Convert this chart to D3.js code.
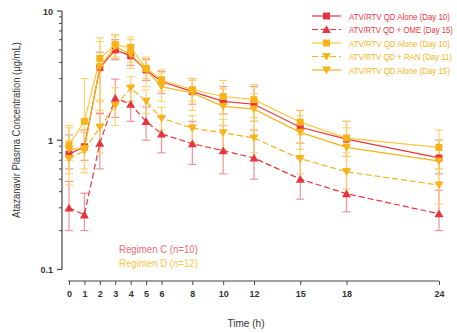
<!DOCTYPE html>
<html>
<head>
<meta charset="utf-8">
<script src="https://cdn.jsdelivr.net/npm/d3@7"></script>
<style>
  body { margin: 0; background: #fff; }
  svg { display: block; }
  .narrow { font-family: "Liberation Sans Narrow", "Arial Narrow", "Liberation Sans", sans-serif; }
  .tick-label { font-family: "Liberation Sans", Arial, sans-serif; font-weight: bold; font-size: 9px; fill: #333; }
</style>
</head>
<body>
<div id="chart"></div>
<script>
// Temps de prélèvement (h)
const times = [0, 1, 2, 3, 4, 5, 6, 8, 10, 12, 15, 18, 24];
const xTicks = [0, 1, 2, 3, 4, 5, 6, 8, 10, 12, 15, 18, 24];
const yTicks = [0.1, 1, 10];

// Séries (moyennes)
const alone10C = [0.78, 0.89, 3.64, 5.0, 4.5, 3.5, 2.85, 2.38, 2.0, 1.9, 1.26, 1.02, 0.73];
const ome15C   = [0.30, 0.265, 0.95, 2.12, 1.9, 1.40, 1.12, 0.94, 0.83, 0.73, 0.50, 0.386, 0.27];
const alone10D = [0.92, 1.40, 4.3, 5.5, 5.2, 3.6, 2.94, 2.46, 2.18, 2.06, 1.38, 1.04, 0.88];
const ran11D   = [0.72, 0.83, 1.26, 1.85, 2.53, 2.0, 1.48, 1.24, 1.14, 1.04, 0.72, 0.57, 0.45];
const alone15D = [0.85, 0.86, 3.7, 5.3, 4.6, 3.5, 2.6, 2.32, 1.83, 1.74, 1.15, 0.88, 0.69];

// Barres d'erreur (bornes haute / basse)
const alone10CHi = [1.1, 1.2, 4.8, 6.0, 5.5, 4.2, 3.4, 3.0, 2.6, 2.6, 1.7, 1.4, 1.0];
const alone10CLo = [0.6, 0.7, 1.6, 4.2, 3.8, 2.9, 2.3, 1.9, 1.6, 1.4, 0.95, 0.75, 0.55];
const ome15CHi   = [0.48, 0.39, 1.62, 2.97, 2.6, 1.81, 1.5, 1.4, 1.3, 1.2, 0.72, 0.6, 0.41];
const ome15CLo   = [0.2, 0.2, 0.6, 1.5, 1.4, 1.0, 0.8, 0.65, 0.55, 0.5, 0.35, 0.28, 0.2];
const alone10DHi = [1.3, 3.0, 6.2, 6.6, 6.3, 4.4, 3.5, 3.0, 2.9, 2.7, 1.7, 1.4, 1.2];
const alone10DLo = [0.7, 0.9, 2.05, 4.4, 4.0, 3.0, 2.4, 2.0, 1.6, 1.5, 1.1, 0.75, 0.6];
const ran11DHi   = [1.0, 1.15, 2.0, 2.55, 3.1, 2.45, 1.8, 1.55, 1.45, 1.4, 0.95, 0.8, 0.6];
const ran11DLo   = [0.45, 0.56, 0.8, 1.3, 2.0, 1.6, 1.2, 0.95, 0.85, 0.8, 0.55, 0.42, 0.32];
const alone15DHi = [1.25, 1.2, 5.8, 6.4, 6.0, 4.3, 3.3, 2.9, 2.5, 2.3, 1.55, 1.25, 1.0];
const alone15DLo = [0.55, 0.6, 1.7, 4.3, 3.6, 2.6, 2.0, 1.7, 1.3, 1.2, 0.85, 0.6, 0.45];

const seriesNames = [
  'ATV/RTV QD Alone (Day 10)',
  'ATV/RTV QD + OME (Day 15)',
  'ATV/RTV QD Alone (Day 10)',
  'ATV/RTV QD + RAN (Day 11)',
  'ATV/RTV QD Alone (Day 15)'
];

const RED = '#e8343e';
const RED_ERR = '#f08890';
const ORANGE = '#f7b318';
const ORANGE_LIGHT = '#fbc83a';
const ORANGE_ERR = '#fbd067';

const series = [
  { name: seriesNames[0], values: alone10C, hi: alone10CHi, lo: alone10CLo, color: RED, err: RED_ERR, symbol: 'square', dash: null },
  { name: seriesNames[1], values: ome15C, hi: ome15CHi, lo: ome15CLo, color: RED, err: RED_ERR, symbol: 'up', dash: '6,3' },
  { name: seriesNames[2], values: alone10D, hi: alone10DHi, lo: alone10DLo, color: ORANGE_LIGHT, err: ORANGE_ERR, symbol: 'square', dash: null, fill: ORANGE },
  { name: seriesNames[3], values: ran11D, hi: ran11DHi, lo: ran11DLo, color: ORANGE, err: ORANGE_ERR, symbol: 'down', dash: '6,3' },
  { name: seriesNames[4], values: alone15D, hi: alone15DHi, lo: alone15DLo, color: ORANGE, err: ORANGE_ERR, symbol: 'down', dash: null }
];

const WIDTH = 457;
const HEIGHT = 333;

/**
 * Condense un texte (police étroite absente) par une mise à l'échelle horizontale
 * autour de son point d'ancrage (x, y), avec rotation éventuelle.
 */
function condense(sel, x0, y0, width, rotate) {
  const len = sel.node().getComputedTextLength();
  const k = Math.min(1, width / len);
  sel.attr('x', 0).attr('y', 0)
    .attr('transform', `translate(${x0},${y0})${rotate ? ` rotate(${rotate})` : ''} scale(${k},1)`);
}

const svg = d3.select('#chart').append('svg')
  .attr('width', WIDTH)
  .attr('height', HEIGHT);

const x = d3.scaleLinear().domain([0, 24]).range([69, 439]);
const y = d3.scaleLog().domain([0.1, 10]).range([269.5, 11]);

// Axe Y (log)
const yAxisG = svg.append('g').attr('transform', 'translate(62,0)');
yAxisG.append('line')
  .attr('x1', 0).attr('x2', 0)
  .attr('y1', y(10)).attr('y2', y(0.1))
  .attr('stroke', '#444').attr('stroke-width', 1.2);

const minorTicks = [];
[0.1, 1].forEach(base => {
  for (let k = 2; k <= 9; k++) minorTicks.push(base * k);
});
yAxisG.selectAll('.minor').data(minorTicks).enter().append('line')
  .attr('x1', -3).attr('x2', 0)
  .attr('y1', d => y(d)).attr('y2', d => y(d))
  .attr('stroke', '#444').attr('stroke-width', 1);
yAxisG.selectAll('.major').data(yTicks).enter().append('line')
  .attr('x1', -5).attr('x2', 0)
  .attr('y1', d => y(d)).attr('y2', d => y(d))
  .attr('stroke', '#444').attr('stroke-width', 1.2);
yAxisG.selectAll('.ylab').data(yTicks).enter().append('text')
  .attr('class', 'tick-label')
  .attr('x', -9).attr('y', d => y(d) + 3.5)
  .attr('text-anchor', 'end')
  .text(d => d);

// Axe X (séparé)
const xAxis = d3.axisBottom(x)
  .tickValues(xTicks)
  .tickSize(4)
  .tickPadding(6)
  .tickFormat(d => d);

const xAxisG = svg.append('g')
  .attr('transform', 'translate(0,281)')
  .call(xAxis);
xAxisG.select('.domain').attr('d', `M${x(0) - 1},0H${x(24)}`).attr('stroke', '#444').attr('stroke-width', 1.2);
xAxisG.selectAll('.tick line').attr('stroke', '#444');
xAxisG.selectAll('.tick text').attr('class', 'tick-label').attr('font-size', null).attr('font-family', null);

// Titres des axes
svg.append('text')
  .attr('class', 'narrow')
  .attr('text-anchor', 'middle')
  .attr('font-size', 10.5)
  .attr('fill', '#333')
  .text('Time (h)')
  .call(condense, 246, 327, 37);

svg.append('text')
  .attr('class', 'narrow')
  .attr('text-anchor', 'middle')
  .attr('font-size', 10.5)
  .attr('fill', '#333')
  .text('Atazanavir Plasma Concentration (µg/mL)')
  .call(condense, 20, 130, 176, -90);

// Barres d'erreur
const CAP = 4;
series.forEach(s => {
  const g = svg.append('g').attr('stroke', s.err).attr('stroke-width', 1.2).attr('opacity', 0.9);
  times.forEach((t, i) => {
    const cx = x(t);
    g.append('line').attr('x1', cx).attr('x2', cx).attr('y1', y(s.hi[i])).attr('y2', y(s.lo[i]));
    g.append('line').attr('x1', cx - CAP).attr('x2', cx + CAP).attr('y1', y(s.hi[i])).attr('y2', y(s.hi[i]));
    g.append('line').attr('x1', cx - CAP).attr('x2', cx + CAP).attr('y1', y(s.lo[i])).attr('y2', y(s.lo[i]));
  });
});

// Symboles
function symbolPath(kind) {
  if (kind === 'square') return 'M-3.5,-3.5H3.5V3.5H-3.5Z';
  if (kind === 'up') return 'M0,-4.2L4.5,3.6H-4.5Z';
  return 'M0,4.2L4.5,-3.6H-4.5Z';
}

const line = d3.line()
  .x((d, i) => x(times[i]))
  .y(d => y(d));

// Courbes et points
series.forEach(s => {
  svg.append('path')
    .datum(s.values)
    .attr('d', line)
    .attr('fill', 'none')
    .attr('stroke', s.color)
    .attr('stroke-width', 1.2)
    .attr('stroke-dasharray', s.dash);
  svg.append('g').selectAll('path')
    .data(s.values)
    .enter().append('path')
    .attr('transform', (d, i) => `translate(${x(times[i])},${y(d)})`)
    .attr('d', symbolPath(s.symbol))
    .attr('fill', s.fill || s.color);
});

// Légende
const legendRows = [16, 29.5, 43, 56.5, 70];
const legendWidths = [101, 104, 101, 103, 101];
const legend = svg.append('g');
series.forEach((s, i) => {
  const ly = legendRows[i];
  legend.append('line')
    .attr('x1', 312).attr('x2', 341)
    .attr('y1', ly).attr('y2', ly)
    .attr('stroke', s.color)
    .attr('stroke-width', 1.2)
    .attr('stroke-dasharray', s.dash);
  legend.append('path')
    .attr('transform', `translate(326.5,${ly})`)
    .attr('d', symbolPath(s.symbol))
    .attr('fill', s.fill || s.color);
  legend.append('text')
    .attr('class', 'narrow')
    .attr('font-size', 9.5)
    .attr('fill', i < 2 ? RED : ORANGE)
    .text(s.name)
    .call(condense, 349, ly + 3.5, legendWidths[i]);
});

// Régimes
svg.append('text')
  .attr('class', 'narrow')
  .attr('font-size', 10.5)
  .attr('fill', '#ef6a74')
  .text('Regimen C (n=10)')
  .call(condense, 119, 253, 79);
svg.append('text')
  .attr('class', 'narrow')
  .attr('font-size', 10.5)
  .attr('fill', '#fcc640')
  .text('Regimen D (n=12)')
  .call(condense, 119, 267, 79);
</script>
</body>
</html>
